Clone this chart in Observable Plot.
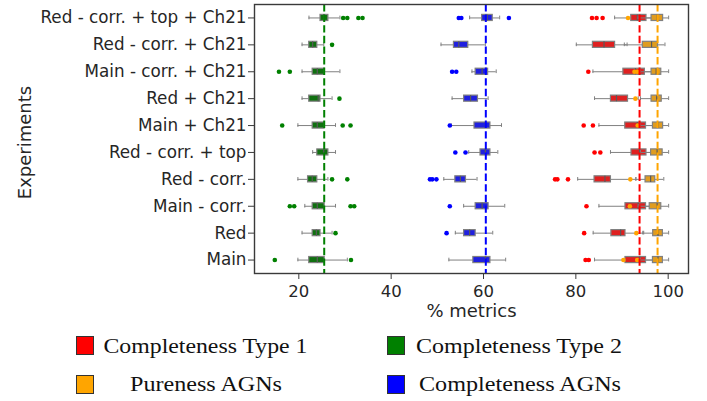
<!DOCTYPE html>
<html>
<head>
<meta charset="utf-8">
<script src="https://cdn.jsdelivr.net/npm/d3@7"></script>
<script src="https://cdn.jsdelivr.net/npm/@observablehq/plot@0.6"></script>
<style>
  html, body { margin: 0; padding: 0; background: #fff; }
  #wrap { width: 707px; height: 401px; overflow: hidden; }
  svg { display: block; }
</style>
</head>
<body>
<div id="wrap"></div>
<script>
// ---------- DATA ----------
const experiments = [
  "Red - corr. + top + Ch21", "Red - corr. + Ch21", "Main - corr. + Ch21", "Red + Ch21",
  "Main + Ch21", "Red - corr. + top", "Red - corr.", "Main - corr.", "Red", "Main"
];
const metricNames = ["Completeness Type 1", "Completeness Type 2", "Pureness AGNs", "Completeness AGNs"];
const xTicks = [20, 40, 60, 80, 100];

// Completeness Type 1
const t1Low  = [88.4, 80.1, 83.7, 84.05, 85.0, 87.5, 80.4, 85.0, 83.75, 84.05];
const t1Q1   = [92.0, 83.7, 90.3, 87.6, 90.7, 92.05, 84.05, 90.75, 87.7, 90.75];
const t1Med  = [93.3, 86.1, 92.9, 88.8, 93.3, 93.8, 86.3, 93.5, 89.7, 93.85];
const t1Q3   = [95.3, 88.5, 94.95, 91.3, 95.2, 95.3, 87.6, 95.2, 90.75, 95.2];
const t1High = [97.5, 91.1, 97.5, 93.5, 97.5, 97.5, 93.0, 97.5, 94.7, 97.5];
const t1Out  = [[83.5, 84.5, 85.8], [], [82.7], [], [81.7, 83.7], [84.05, 85.3], [75.5, 76.0, 78.3], [82.3], [81.8], [82.1, 82.8]];

// Completeness Type 2
const t2Low  = [22.2, 20.7, 20.7, 20.7, 19.8, 23.0, 19.8, 21.3, 20.7, 19.8];
const t2Q1   = [24.7, 22.25, 23.0, 22.25, 23.0, 24.0, 22.0, 23.0, 23.0, 22.25];
const t2Med  = [25.4, 23.0, 24.0, 24.2, 24.0, 25.4, 22.9, 24.0, 23.8, 24.0];
const t2Q3   = [26.4, 24.0, 25.6, 24.7, 25.6, 26.4, 24.0, 25.6, 24.7, 25.6];
const t2High = [28.9, 25.4, 28.9, 27.2, 27.95, 27.95, 26.3, 27.95, 27.2, 30.5];
const t2Out  = [[29.6, 30.5, 32.9, 33.8], [27.2], [15.7, 18.05], [28.8], [16.4, 29.5, 31.2], [], [27.2, 30.5], [18.05, 19.0, 31.2, 32.0], [27.95], [14.8, 31.3]];

// Pureness AGNs
const puLow  = [93.5, 90.5, 94.0, 94.0, 94.0, 94.0, 93.0, 93.5, 94.5, 94.0];
const puQ1   = [96.4, 94.5, 96.4, 96.4, 96.7, 96.3, 95.1, 96.0, 96.75, 96.7];
const puMed  = [97.6, 96.4, 97.4, 97.5, 97.8, 97.6, 96.2, 97.6, 97.8, 97.8];
const puQ3   = [98.9, 97.8, 98.5, 98.6, 98.9, 98.8, 97.2, 98.5, 98.85, 98.85];
const puHigh = [100.1, 99.3, 100.1, 100.1, 100.1, 100.1, 99.05, 100.1, 100.1, 100.1];
const puOut  = [[91.3], [], [92.7, 93.3], [92.9], [93.4], [], [91.8], [91.7], [93.1], [90.3, 93.3]];

// Completeness AGNs
const caLow  = [57.0, 50.8, 57.5, 53.2, 53.0, 56.8, 51.4, 55.7, 53.9, 52.5];
const caQ1   = [59.7, 53.6, 58.3, 55.8, 58.05, 59.35, 53.9, 58.3, 55.8, 57.8];
const caMed  = [60.8, 54.65, 59.7, 57.2, 60.4, 60.4, 55.0, 59.7, 57.0, 60.4];
const caQ3   = [62.0, 56.7, 61.0, 58.8, 61.5, 61.5, 56.2, 61.1, 58.3, 61.5];
const caHigh = [63.5, 60.4, 62.75, 61.0, 63.9, 63.1, 58.6, 64.6, 62.0, 64.8];
const caOut  = [[54.65, 55.2, 65.5], [], [53.2, 54.1], [], [52.7], [53.9, 56.1], [48.4, 48.9, 49.8], [52.7], [52.0], []];

// reference (dashed) lines
const refValues = [93.8, 25.5, 97.7, 60.5];

// ---------- STYLE ----------
const boxFill  = ["#df2020", "#107010", "#df9c20", "#2020df"];
const dotFill  = ["#ff0000", "#008000", "#ffa500", "#0000ff"];
const refColor = ["#ff0000", "#008000", "#ffa500", "#0000ff"];

const series = [
  [t1Low, t1Q1, t1Med, t1Q3, t1High, t1Out],
  [t2Low, t2Q1, t2Med, t2Q3, t2High, t2Out],
  [puLow, puQ1, puMed, puQ3, puHigh, puOut],
  [caLow, caQ1, caMed, caQ3, caHigh, caOut]
];

const gray = "#808080";
const boxInset = 10.4;
const capInset = 11.6;

const marks = [];
series.forEach(([lo, q1, med, q3, hi, out], i) => {
  const rows = experiments.map((e, j) => ({exp: e, lo: lo[j], q1: q1[j], med: med[j], q3: q3[j], hi: hi[j]}));
  const outs = experiments.flatMap((e, j) => out[j].map(v => ({exp: e, v})));
  marks.push(
    Plot.ruleY(rows, {y: "exp", x1: "lo", x2: "q1", stroke: gray, strokeWidth: 1}),
    Plot.ruleY(rows, {y: "exp", x1: "q3", x2: "hi", stroke: gray, strokeWidth: 1}),
    Plot.tickX(rows, {y: "exp", x: "lo", stroke: gray, strokeWidth: 1, insetTop: capInset, insetBottom: capInset}),
    Plot.tickX(rows, {y: "exp", x: "hi", stroke: gray, strokeWidth: 1, insetTop: capInset, insetBottom: capInset}),
    Plot.barX(rows, {y: "exp", x1: "q1", x2: "q3", fill: boxFill[i], stroke: gray, strokeWidth: 1.2, insetTop: boxInset, insetBottom: boxInset}),
    Plot.tickX(rows, {y: "exp", x: "med", stroke: "#5a5a5a", strokeWidth: 1.2, insetTop: boxInset, insetBottom: boxInset}),
    Plot.dot(outs, {y: "exp", x: "v", r: 2.3, fill: dotFill[i], stroke: "none"})
  );
});

const chart = Plot.plot({
  width: 707,
  height: 325,
  marginLeft: 254,
  marginRight: 19,
  marginTop: 4,
  marginBottom: 52,
  style: {fontFamily: "'DejaVu Sans', sans-serif", fontSize: "16.5px", color: "#262626", background: "#fff"},
  x: {domain: [10.4, 104.4], label: null},
  y: {domain: experiments, padding: 0, round: false, label: null},
  marks: [
    ...marks,
    Plot.ruleX(refValues, {x: d => d, stroke: (d, i) => refColor[i], strokeWidth: 2, strokeDasharray: "7.4,3.2"}),
    Plot.frame({stroke: "#3a3a3a", strokeWidth: 1.4}),
    Plot.axisX({ticks: xTicks, tickSize: 6, tickPadding: 6, stroke: "#3a3a3a", label: null, fontSize: 16.5}),
    Plot.axisY({tickSize: 6, tickPadding: 2, stroke: "#3a3a3a", label: null, fontSize: 16.8}),
    Plot.text(["% metrics"], {frameAnchor: "bottom", lineAnchor: "middle", textAnchor: "middle", dy: 38, fontSize: 18, fill: "#262626"}),
    Plot.text(["Experiments"], {frameAnchor: "left", lineAnchor: "middle", textAnchor: "middle", dx: -229, dy: 3.5, rotate: -90, fontSize: 18, fill: "#262626"})
  ]
});

document.getElementById("wrap").appendChild(chart);

// ---------- LEGEND ----------
const legendColors = ["#ff0000", "#008000", "#ffa500", "#0000ff"];
const legendPos = [
  {sx: 76, sy: 11, tx: 103.5, ty: 27.5, tw: 204},
  {sx: 387, sy: 11, tx: 416, ty: 27.5, tw: 206},
  {sx: 76, sy: 50, tx: 130, ty: 66, tw: 152},
  {sx: 387, sy: 50, tx: 419, ty: 66, tw: 202}
];
const NS = "http://www.w3.org/2000/svg";
const leg = document.createElementNS(NS, "svg");
leg.setAttribute("width", 707);
leg.setAttribute("height", 76);
metricNames.forEach((name, i) => {
  const p = legendPos[i];
  const r = document.createElementNS(NS, "rect");
  r.setAttribute("x", p.sx + 0.5); r.setAttribute("y", p.sy + 0.5);
  r.setAttribute("width", 17); r.setAttribute("height", 18);
  r.setAttribute("fill", legendColors[i]); r.setAttribute("stroke", "#333"); r.setAttribute("stroke-width", 1);
  leg.appendChild(r);
  const t = document.createElementNS(NS, "text");
  t.setAttribute("x", p.tx); t.setAttribute("y", p.ty);
  t.setAttribute("font-family", "'Liberation Serif', 'Times New Roman', serif");
  t.setAttribute("font-size", 22);
  t.setAttribute("fill", "#111");
  t.setAttribute("textLength", p.tw);
  t.setAttribute("lengthAdjust", "spacingAndGlyphs");
  t.textContent = name;
  leg.appendChild(t);
});
document.getElementById("wrap").appendChild(leg);
</script>
</body>
</html>
